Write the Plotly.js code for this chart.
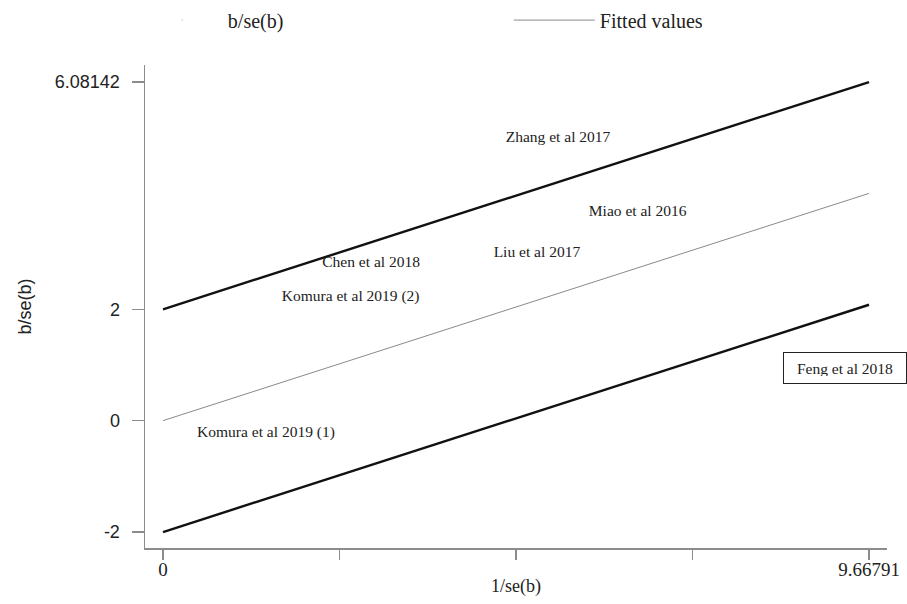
<!DOCTYPE html>
<html>
<head>
<meta charset="utf-8">
<script src="https://cdn.plot.ly/plotly-3.0.1.min.js"></script>
<style>
html, body { margin: 0; padding: 0; background: #fff; }
#chart { width: 907px; height: 604px; }
</style>
</head>
<body>
<div id="chart"></div>
<script>
// Study labels and their Galbraith coordinates (x = 1/se(b), y = b/se(b))
const studyLabels = ["Zhang et al 2017", "Miao et al 2016", "Liu et al 2017", "Chen et al 2018",
                     "Komura et al 2019 (2)", "Komura et al 2019 (1)", "Feng et al 2018"];
const studyX = [5.41, 6.50, 5.12, 2.85, 2.57, 1.41, 9.34];
const studyY = [5.075, 3.75, 3.005, 2.825, 2.225, -0.228, 0.945];

// Fitted line and +/-2 bounds
const lineX = [0, 9.66791];
const fittedY = [0, 4.08142];
const upperY = [2, 6.08142];
const lowerY = [-2, 2.08142];

// Ticks
const xTickVals = [0, 2.41698, 4.83396, 7.25093, 9.66791];
const xTickText = ["0", "", "", "", "9.66791"];
const yTickVals = [-2, 0, 2, 6.08142];
const yTickText = ["-2", "0", "2", "6.08142"];

const serif = "Liberation Serif, Times New Roman, serif";
const sans = "Liberation Sans, Arial, sans-serif";
const axisGray = "#8c8c8c";

// Regular labels (all but the boxed one)
const nPlain = studyLabels.length - 1;

const traces = [
  {
    x: [null], y: [null], mode: "markers", name: "b/se(b)",
    marker: { opacity: 0, size: 1 }, hoverinfo: "skip", showlegend: true
  },
  {
    x: lineX, y: fittedY, mode: "lines", name: "Fitted values",
    line: { color: "#8a8a8a", width: 1 }, showlegend: true
  },
  {
    x: lineX, y: upperY, mode: "lines", name: "upper",
    line: { color: "#111", width: 2.4 }, showlegend: false
  },
  {
    x: lineX, y: lowerY, mode: "lines", name: "lower",
    line: { color: "#111", width: 2.4 }, showlegend: false
  },
  {
    x: studyX.slice(0, nPlain), y: studyY.slice(0, nPlain),
    text: studyLabels.slice(0, nPlain), mode: "text",
    textposition: "middle center",
    textfont: { family: serif, size: 15.5, color: "#222" },
    cliponaxis: false, showlegend: false, name: "b/se(b)"
  }
];

const layout = {
  width: 907, height: 604,
  margin: { l: 145, r: 20, t: 65, b: 56, autoexpand: false },
  paper_bgcolor: "#fff", plot_bgcolor: "#fff",
  showlegend: true,
  legend: {
    orientation: "h", x: -0.011, xanchor: "left", y: 1.093, yanchor: "middle",
    font: { family: serif, size: 20, color: "#222" },
    itemwidth: 81, entrywidth: 276, entrywidthmode: "pixels",
    traceorder: "normal", bgcolor: "rgba(0,0,0,0)"
  },
  xaxis: {
    range: [-0.2465, 9.914], showgrid: false, zeroline: false,
    showline: true, linecolor: axisGray, linewidth: 1.5,
    ticks: "outside", ticklen: 10, tickcolor: axisGray, tickwidth: 1.2,
    tickmode: "array", tickvals: xTickVals, ticktext: xTickText,
    tickfont: { family: serif, size: 19, color: "#222" },
    ticklabelstandoff: -6,
    title: { text: "1/se(b)", font: { family: serif, size: 18, color: "#222" }, standoff: 0 }
  },
  yaxis: {
    range: [-2.287, 6.387], showgrid: false, zeroline: false,
    showline: true, linecolor: axisGray, linewidth: 1.5,
    ticks: "outside", ticklen: 12, tickcolor: axisGray, tickwidth: 1.2,
    tickmode: "array", tickvals: yTickVals, ticktext: yTickText,
    tickfont: { family: sans, size: 18, color: "#222" },
    ticklabelstandoff: 8,
    title: { text: "b/se(b)", font: { family: sans, size: 18, color: "#222" }, standoff: 18 }
  },
  annotations: [
    {
      x: studyX[nPlain], y: studyY[nPlain], xref: "x", yref: "y",
      text: studyLabels[nPlain], showarrow: false,
      font: { family: serif, size: 15.5, color: "#222" },
      bordercolor: "#222", borderwidth: 1, borderpad: 7,
      width: 108, height: 16, bgcolor: "#fff"
    }
  ]
};

Plotly.newPlot("chart", traces, layout, { displayModeBar: false, staticPlot: true });
</script>
</body>
</html>
